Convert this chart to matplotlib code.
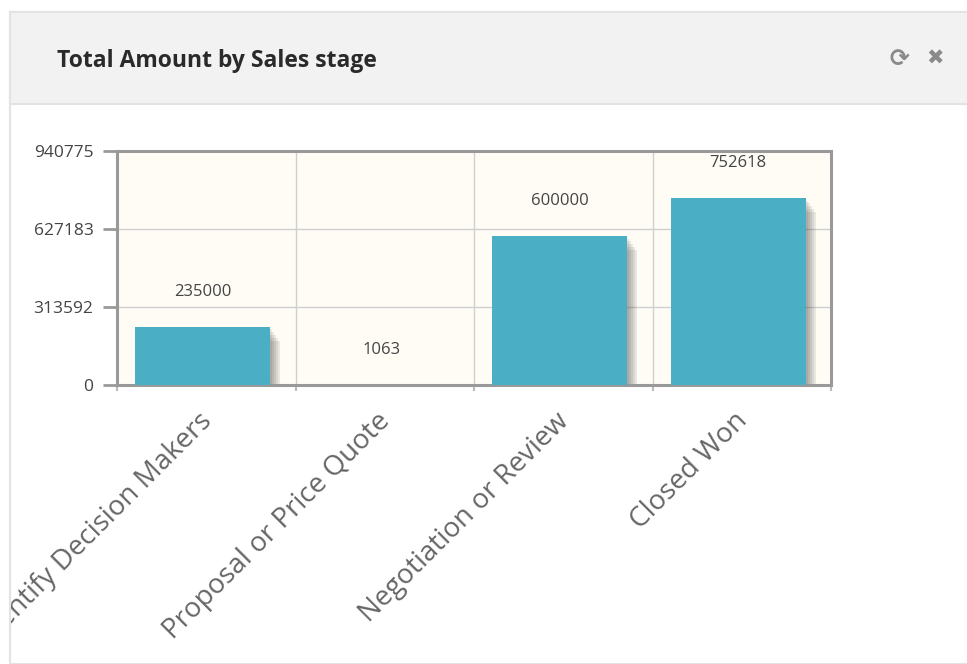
import matplotlib.pyplot as plt
import matplotlib.transforms as mtransforms
from matplotlib.patches import Rectangle
import numpy as np

# chart data
stages = ["Identify Decision Makers", "Proposal or Price Quote",
          "Negotiation or Review", "Closed Won"]
amounts = [235000, 1063, 600000, 752618]
y_ticks = [0, 313592, 627183, 940775]

W, H = 967, 664
fig = plt.figure(figsize=(W / 100, H / 100), dpi=100)
fig.patch.set_facecolor('white')


def fx(px):
    return px / W


def fy(py):
    return 1 - py / H


# panel frame + header (kept behind the axes)
panel = Rectangle((fx(10), 0), 1.0, fy(12), transform=fig.transFigure,
                  fc='white', ec='#e3e3e3', lw=1.5, zorder=-10)
fig.patches.append(panel)
header = Rectangle((fx(10), fy(104)), 1.0, fy(12) - fy(104),
                   transform=fig.transFigure, fc='#f2f2f2', ec='#e3e3e3',
                   lw=1.5, zorder=-9)
fig.patches.append(header)
fig.text(fx(57), fy(61), "Total Amount by Sales stage", fontsize=16.5,
         fontweight='bold', color='#2a2a2a', family='Open Sans',
         va='center', ha='left')
fig.text(fx(899), fy(59), "\u27f3", fontsize=17, color='#8a8a8a',
         va='center', ha='center', family='DejaVu Sans', fontweight='bold')
fig.text(fx(935), fy(59), "\u2716", fontsize=15, color='#8a8a8a',
         va='center', ha='center', family='DejaVu Sans')

ax = fig.add_axes([fx(117), fy(385), fx(831) - fx(117), fy(151) - fy(385)])
ax.set_facecolor('#fffcf5')

x = np.arange(len(stages))
bw = 0.756
xc = x - 0.02

# drop shadow
for off in [2, 4, 6, 8, 10]:
    shift = mtransforms.ScaledTranslation(off / 100, -off * 1.4 / 100,
                                          fig.dpi_scale_trans)
    ax.bar(xc, amounts, width=bw, color='#444444', alpha=0.11,
           transform=ax.transData + shift, zorder=2)

ax.bar(xc, amounts, width=bw, color='#4aafc5', zorder=3)

for xi, v in zip(xc, amounts):
    ax.annotate(str(v), (xi, v), xytext=(0, 25), textcoords='offset points',
                ha='center', va='center', fontsize=12, color='#444444',
                family='Open Sans')

ax.set_xlim(-0.5, len(stages) - 0.5)
ax.set_ylim(0, 940775)
ax.set_yticks(y_ticks)
ax.set_yticklabels([str(t) for t in y_ticks], fontsize=12.5, color='#444444',
                   family='Open Sans')
ax.set_xticks(np.arange(len(stages) + 1) - 0.5)
ax.set_xticklabels([])
ax.tick_params(axis='y', length=10, width=2, color='#999999', pad=7)
ax.tick_params(axis='x', length=4, width=1.5, color='#bbbbbb')
ax.grid(True, color='#cfcfcf', lw=1, zorder=1)
ax.set_axisbelow(True)
for s in ax.spines.values():
    s.set_color('#999999')
    s.set_linewidth(2.2)

# category labels, clipped at the panel's left border like the reference
clip = Rectangle((fx(11), 0), 1.0, 1.0, transform=fig.transFigure,
                 visible=False)
fig.patches.append(clip)
for xi, name in zip(x, stages):
    t = ax.annotate(name, (xi, 0), xytext=(-6, -16), textcoords='offset points',
                    rotation=45, ha='right', va='top', fontsize=20,
                    color='#666666', family='Open Sans',
                    rotation_mode='anchor', annotation_clip=False)
    t.set_clip_path(clip)
    t.set_clip_on(True)

plt.savefig('out.png', dpi=100)
